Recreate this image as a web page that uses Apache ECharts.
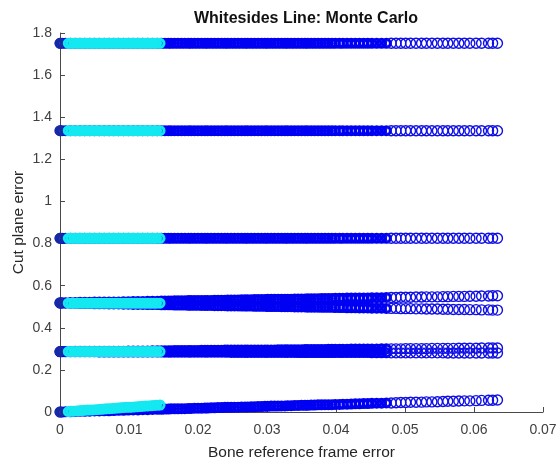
<!DOCTYPE html>
<html>
<head>
<meta charset="utf-8">
<script src="https://cdn.jsdelivr.net/npm/echarts@6/dist/echarts.min.js"></script>
<style>
  html, body { margin: 0; padding: 0; background: #fff; }
  #chart { width: 558px; height: 461px; }
</style>
</head>
<body>
<div id="chart"></div>
<script>
// Bone reference frame error of each blue trial (shared by all bands)
const trialErr = [
  0.0000, 0.0003, 0.0008, 0.0015, 0.0022, 0.0029, 0.0036, 0.0043, 0.0050, 0.0057,
  0.0064, 0.0071, 0.0078, 0.0085, 0.0092, 0.0099, 0.0106, 0.0113, 0.0120, 0.0127,
  0.0134, 0.0141, 0.0147,
  0.0152, 0.0157, 0.0161, 0.0166, 0.0171, 0.0176, 0.0181, 0.0186, 0.0190, 0.0195,
  0.0200, 0.0205, 0.0210, 0.0214, 0.0219, 0.0224, 0.0229, 0.0234, 0.0239, 0.0243,
  0.0248, 0.0253, 0.0258, 0.0263, 0.0268, 0.0272, 0.0277, 0.0282, 0.0287, 0.0292,
  0.0297, 0.0301, 0.0306, 0.0311, 0.0316, 0.0321, 0.0326, 0.0330, 0.0335, 0.0340,
  0.0345, 0.0350, 0.0355, 0.0359, 0.0364, 0.0369, 0.0374, 0.0379, 0.0384, 0.0389,
  0.0394, 0.0399, 0.0405, 0.0410, 0.0416, 0.0422, 0.0428, 0.0434, 0.0440, 0.0446,
  0.0452, 0.0459, 0.0466, 0.0473, 0.0480, 0.0487, 0.0494, 0.0501, 0.0508, 0.0516,
  0.0524, 0.0531, 0.0539, 0.0547, 0.0555, 0.0562, 0.0570, 0.0578, 0.0586, 0.0594,
  0.0603, 0.0611, 0.0621, 0.0627, 0.0634
];

// Cut plane error of the lowest band (rises with the error)
const bandFloor = [
  0.000, 0.000, 0.001, 0.001, 0.002, 0.003, 0.003, 0.004, 0.005, 0.005,
  0.006, 0.006, 0.007, 0.008, 0.008, 0.009, 0.010, 0.010, 0.011, 0.011,
  0.012, 0.013, 0.013,
  0.014, 0.014, 0.015, 0.015, 0.015, 0.016, 0.016, 0.017, 0.017, 0.018,
  0.018, 0.018, 0.019, 0.019, 0.020, 0.020, 0.021, 0.021, 0.022, 0.022,
  0.022, 0.023, 0.023, 0.024, 0.024, 0.024, 0.025, 0.025, 0.026, 0.026,
  0.027, 0.027, 0.028, 0.028, 0.028, 0.029, 0.029, 0.030, 0.030, 0.031,
  0.031, 0.032, 0.032, 0.032, 0.033, 0.033, 0.034, 0.034, 0.035, 0.035,
  0.035, 0.036, 0.036, 0.037, 0.037, 0.038, 0.039, 0.039, 0.040, 0.040,
  0.041, 0.042, 0.042, 0.043, 0.043, 0.044, 0.045, 0.045, 0.046, 0.046,
  0.047, 0.048, 0.048, 0.049, 0.050, 0.051, 0.051, 0.052, 0.053, 0.053,
  0.054, 0.055, 0.056, 0.056, 0.057
];

// Upper and lower branches of the band near 0.52
const band52Upper = [
  0.519, 0.519, 0.519, 0.520, 0.520, 0.521, 0.521, 0.521, 0.522, 0.522,
  0.522, 0.523, 0.523, 0.523, 0.524, 0.524, 0.525, 0.525, 0.525, 0.526,
  0.526, 0.526, 0.527,
  0.527, 0.527, 0.527, 0.528, 0.528, 0.528, 0.528, 0.529, 0.529, 0.529,
  0.529, 0.530, 0.530, 0.530, 0.530, 0.531, 0.531, 0.531, 0.531, 0.532,
  0.532, 0.532, 0.532, 0.533, 0.533, 0.533, 0.533, 0.534, 0.534, 0.534,
  0.534, 0.535, 0.535, 0.535, 0.535, 0.536, 0.536, 0.536, 0.536, 0.537,
  0.537, 0.537, 0.537, 0.538, 0.538, 0.538, 0.538, 0.539, 0.539, 0.539,
  0.539, 0.540, 0.540, 0.540, 0.541, 0.541, 0.541, 0.542, 0.542, 0.542,
  0.543, 0.543, 0.543, 0.544, 0.544, 0.544, 0.545, 0.545, 0.545, 0.546,
  0.546, 0.547, 0.547, 0.547, 0.548, 0.548, 0.549, 0.549, 0.549, 0.550,
  0.550, 0.551, 0.551, 0.552, 0.552
];
const band52Lower = [
  0.517, 0.517, 0.517, 0.516, 0.516, 0.515, 0.515, 0.515, 0.514, 0.514,
  0.514, 0.513, 0.513, 0.513, 0.512, 0.512, 0.511, 0.511, 0.511, 0.510,
  0.510, 0.510, 0.509,
  0.509, 0.509, 0.509, 0.508, 0.508, 0.508, 0.508, 0.507, 0.507, 0.507,
  0.507, 0.506, 0.506, 0.506, 0.506, 0.505, 0.505, 0.505, 0.505, 0.504,
  0.504, 0.504, 0.504, 0.503, 0.503, 0.503, 0.503, 0.502, 0.502, 0.502,
  0.502, 0.501, 0.501, 0.501, 0.501, 0.500, 0.500, 0.500, 0.500, 0.499,
  0.499, 0.499, 0.499, 0.498, 0.498, 0.498, 0.498, 0.497, 0.497, 0.497,
  0.497, 0.496, 0.496, 0.496, 0.495, 0.495, 0.495, 0.494, 0.494, 0.494,
  0.493, 0.493, 0.493, 0.492, 0.492, 0.492, 0.491, 0.491, 0.491, 0.490,
  0.490, 0.489, 0.489, 0.489, 0.488, 0.488, 0.487, 0.487, 0.487, 0.486,
  0.486, 0.485, 0.485, 0.484, 0.484
];

// Upper and lower branches of the band near 0.29
const band29Upper = [
  0.287, 0.287, 0.287, 0.287, 0.288, 0.288, 0.288, 0.288, 0.288, 0.289,
  0.289, 0.289, 0.289, 0.289, 0.289, 0.290, 0.290, 0.290, 0.290, 0.290,
  0.291, 0.291, 0.291,
  0.291, 0.291, 0.291, 0.292, 0.292, 0.292, 0.292, 0.292, 0.292, 0.292,
  0.292, 0.293, 0.293, 0.293, 0.293, 0.293, 0.293, 0.293, 0.294, 0.294,
  0.294, 0.294, 0.294, 0.294, 0.294, 0.294, 0.294, 0.295, 0.295, 0.295,
  0.295, 0.295, 0.295, 0.295, 0.296, 0.296, 0.296, 0.296, 0.296, 0.296,
  0.296, 0.296, 0.297, 0.297, 0.297, 0.297, 0.297, 0.297, 0.297, 0.298,
  0.298, 0.298, 0.298, 0.298, 0.298, 0.299, 0.299, 0.299, 0.299, 0.299,
  0.299, 0.299, 0.300, 0.300, 0.300, 0.300, 0.300, 0.301, 0.301, 0.301,
  0.301, 0.301, 0.302, 0.302, 0.302, 0.302, 0.302, 0.303, 0.303, 0.303,
  0.303, 0.304, 0.304, 0.304, 0.304
];
const band29Lower = [
  0.286, 0.286, 0.286, 0.286, 0.286, 0.286, 0.286, 0.286, 0.286, 0.285,
  0.285, 0.285, 0.285, 0.285, 0.285, 0.285, 0.285, 0.285, 0.285, 0.285,
  0.285, 0.285, 0.285,
  0.284, 0.284, 0.284, 0.284, 0.284, 0.284, 0.284, 0.284, 0.284, 0.284,
  0.284, 0.284, 0.284, 0.284, 0.284, 0.284, 0.284, 0.284, 0.284, 0.284,
  0.283, 0.283, 0.283, 0.283, 0.283, 0.283, 0.283, 0.283, 0.283, 0.283,
  0.283, 0.283, 0.283, 0.283, 0.283, 0.283, 0.283, 0.283, 0.283, 0.283,
  0.282, 0.282, 0.282, 0.282, 0.282, 0.282, 0.282, 0.282, 0.282, 0.282,
  0.282, 0.282, 0.282, 0.282, 0.282, 0.282, 0.282, 0.282, 0.282, 0.282,
  0.281, 0.281, 0.281, 0.281, 0.281, 0.281, 0.281, 0.281, 0.281, 0.281,
  0.281, 0.281, 0.281, 0.281, 0.281, 0.280, 0.280, 0.280, 0.280, 0.280,
  0.280, 0.280, 0.280, 0.280, 0.280
];

// Bands that keep the same cut plane error over the whole range
const flatLevels = [1.751, 1.336, 0.825];

// Cyan trials: small bone reference frame error
const lowErr = [
  0.0012, 0.0016, 0.0020, 0.0024, 0.0028, 0.0032, 0.0036, 0.0040, 0.0044, 0.0048,
  0.0052, 0.0056, 0.0060, 0.0064, 0.0068, 0.0072, 0.0076, 0.0080, 0.0084, 0.0088,
  0.0092, 0.0096, 0.0100, 0.0104, 0.0108, 0.0112, 0.0116, 0.0120, 0.0124, 0.0128,
  0.0132, 0.0136, 0.0140, 0.0145
];
// Cut plane error of the cyan trials in the lowest band
const lowFloor = [
  0.002, 0.003, 0.004, 0.005, 0.006, 0.007, 0.008, 0.009, 0.009, 0.010,
  0.011, 0.012, 0.013, 0.014, 0.015, 0.016, 0.017, 0.018, 0.019, 0.020,
  0.021, 0.022, 0.022, 0.023, 0.024, 0.025, 0.026, 0.027, 0.028, 0.029,
  0.030, 0.031, 0.032, 0.033
];
// Cut plane error of the cyan trials in the other bands
const lowLevels = [1.751, 1.336, 0.825, 0.517, 0.287];

// Zero-error trial at the start of each band
const originLevels = [1.751, 1.336, 0.825, 0.518, 0.287, 0.000];

// Beyond this error the trials thin out and single circles show
const sparseFrom = 0.0478;

// ---- build the scatter data ----
const denseData = [];
const sparseData = [];
trialErr.forEach((x, i) => {
  const target = x < sparseFrom ? denseData : sparseData;
  target.push([x, bandFloor[i]]);
  target.push([x, band29Lower[i]]);
  target.push([x, band29Upper[i]]);
  target.push([x, band52Lower[i]]);
  target.push([x, band52Upper[i]]);
  flatLevels.forEach(level => target.push([x, level]));
});

const originData = originLevels.map(level => [0, level]);

const cyanData = [];
lowErr.forEach((x, i) => {
  cyanData.push([x, lowFloor[i]]);
  lowLevels.forEach(level => cyanData.push([x, level]));
});

const FONT = '"Liberation Sans", Arial, Helvetica, sans-serif';
const AXIS_COLOR = '#4a4a4a';
const LABEL_COLOR = '#404040';
const BLUE = '#0000f2';

const chart = echarts.init(document.getElementById('chart'), null, { renderer: 'canvas' });

chart.setOption({
  animation: false,
  backgroundColor: '#ffffff',
  title: {
    text: 'Whitesides Line: Monte Carlo',
    left: 301,
    textAlign: 'center',
    top: 6,
    textStyle: { fontFamily: FONT, fontSize: 16, fontWeight: 'bold', color: '#111' }
  },
  grid: { left: 60, right: 15, top: 33, bottom: 49, outerBoundsMode: 'none', containLabel: false },
  xAxis: {
    type: 'value',
    min: 0,
    max: 0.07,
    interval: 0.01,
    name: 'Bone reference frame error',
    nameLocation: 'middle',
    nameGap: 33,
    nameTextStyle: { fontFamily: FONT, fontSize: 15.5, color: '#262626' },
    axisLine: { show: true, lineStyle: { color: AXIS_COLOR, width: 1 } },
    axisTick: { show: true, inside: true, length: 5, lineStyle: { color: AXIS_COLOR } },
    axisLabel: { fontFamily: FONT, fontSize: 14, color: LABEL_COLOR, margin: 11 },
    splitLine: { show: false }
  },
  yAxis: {
    type: 'value',
    min: 0,
    max: 1.8,
    interval: 0.2,
    name: 'Cut plane error',
    nameLocation: 'middle',
    nameGap: 33,
    nameMoveOverlap: false,
    nameTextStyle: { fontFamily: FONT, fontSize: 15.5, color: '#262626' },
    axisLine: { show: true, lineStyle: { color: AXIS_COLOR, width: 1 } },
    axisTick: { show: true, inside: true, length: 5, lineStyle: { color: AXIS_COLOR } },
    axisLabel: { fontFamily: FONT, fontSize: 14, color: LABEL_COLOR, margin: 8 },
    splitLine: { show: false }
  },
  series: [
    {
      name: 'trials',
      type: 'scatter',
      data: denseData,
      symbol: 'circle',
      symbolSize: 8,
      clip: false,
      silent: true,
      itemStyle: { color: 'rgba(0,0,0,0)', borderColor: BLUE, borderWidth: 3, opacity: 1 }
    },
    {
      name: 'trials (tail)',
      type: 'scatter',
      data: sparseData,
      symbol: 'circle',
      symbolSize: 10,
      clip: false,
      silent: true,
      itemStyle: { color: 'rgba(0,0,0,0)', borderColor: '#1010e6', borderWidth: 1.4, opacity: 1 }
    },
    {
      name: 'origin',
      type: 'scatter',
      data: originData,
      symbol: 'circle',
      symbolSize: 10,
      clip: false,
      silent: true,
      itemStyle: { color: '#1b3390', borderColor: '#1b3390', borderWidth: 1 }
    },
    {
      name: 'low error trials',
      type: 'scatter',
      data: cyanData,
      symbol: 'circle',
      symbolSize: 8,
      clip: false,
      silent: true,
      itemStyle: { color: 'rgba(0,0,0,0)', borderColor: '#14e8f0', borderWidth: 3, opacity: 1 }
    }
  ]
});
</script>
</body>
</html>
